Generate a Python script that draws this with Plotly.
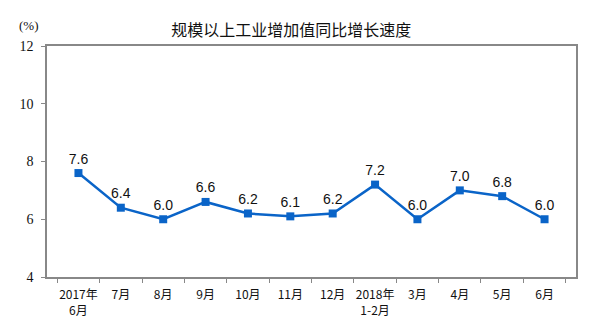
import plotly.graph_objects as go

# Monthly year-on-year growth of industrial value added above designated size (%)
months = ["2017年<br>6月", "7月", "8月", "9月", "10月", "11月", "12月",
          "2018年<br>1-2月", "3月", "4月", "5月", "6月"]
growth = [7.6, 6.4, 6.0, 6.6, 6.2, 6.1, 6.2, 7.2, 6.0, 7.0, 6.8, 6.0]
y_ticks = [4, 6, 8, 10, 12]

LINE = "#0a64c8"
CJK = "Noto Sans CJK SC"
SERIF = "Liberation Serif"

fig = go.Figure(
    go.Scatter(
        x=months,
        y=growth,
        mode="lines+markers+text",
        line=dict(color=LINE, width=2.5),
        marker=dict(symbol="square", size=8, color=LINE),
        text=[f"{v:.1f}" for v in growth],
        textposition="top center",
        textfont=dict(family="Liberation Sans", size=14, color="#111"),
        cliponaxis=False,
        hoverinfo="skip",
    )
)

fig.update_layout(
    width=598,
    height=334,
    margin=dict(l=47, r=22, t=46, b=57),
    paper_bgcolor="white",
    plot_bgcolor="white",
    showlegend=False,
    title=dict(
        text="规模以上工业增加值同比增长速度",
        x=0.487, xanchor="center", y=0.91, yanchor="middle",
        font=dict(family=CJK, size=16, color="#111"),
    ),
    annotations=[
        dict(text="(%)", xref="paper", yref="paper", x=-0.034, y=1.09,
             xanchor="center", yanchor="middle", showarrow=False,
             font=dict(family=SERIF, size=13, color="#111")),
    ],
)

fig.update_xaxes(
    type="category",
    tickson="boundaries",
    tickangle=0,
    ticks="outside",
    ticklen=4,
    tickcolor="#888",
    ticklabelstandoff=6,
    showline=True,
    linecolor="#888",
    linewidth=1.5,
    mirror=True,
    showgrid=False,
    tickfont=dict(family=CJK, size=12, color="#111"),
)

fig.update_yaxes(
    range=[4, 12],
    tickvals=y_ticks,
    ticks="outside",
    ticklen=4,
    tickcolor="#888",
    ticklabelstandoff=5,
    showline=True,
    linecolor="#888",
    linewidth=1.5,
    mirror=True,
    showgrid=False,
    zeroline=False,
    tickfont=dict(family=SERIF, size=14, color="#111"),
)

fig.write_html("out.html")
